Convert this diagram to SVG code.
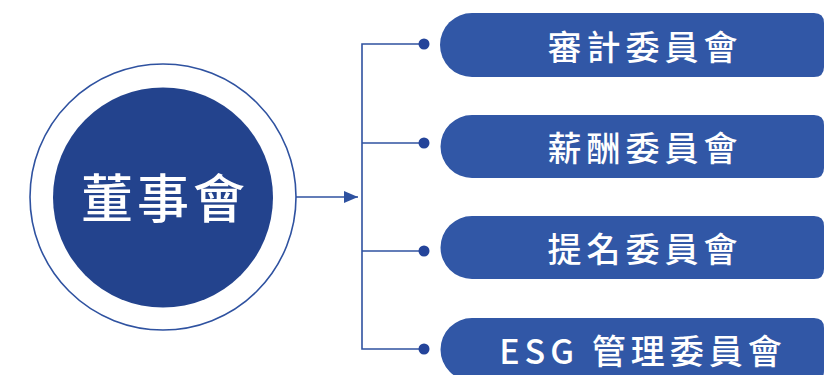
<svg xmlns="http://www.w3.org/2000/svg" width="824" height="375" viewBox="0 0 824 375">
<defs>
<style>
.line{fill:none;stroke:#2F52A0;stroke-width:1.6}
.dot{fill:#24449A}
.pill{fill:#3157A6}
.t{font-family:"Noto Sans CJK TC","Noto Sans CJK SC","Noto Sans",sans-serif;fill:#fff;font-weight:500;text-anchor:middle}
.pt{font-size:34px;letter-spacing:5px}
</style>
<marker id="arr" viewBox="0 0 14 12" refX="14" refY="6" markerWidth="14" markerHeight="12" markerUnits="userSpaceOnUse" orient="auto">
<path d="M0,0 L14,6 L0,12 Z" fill="#2F52A0"/>
</marker>
</defs>
<rect width="824" height="375" fill="#fff"/>
<g id="board">
<circle cx="163" cy="197" r="133" fill="#fff" stroke="#2F52A0" stroke-width="1.6"/>
<circle cx="163" cy="197.5" r="110" fill="#23438D"/>
<text class="t" x="165" y="218" font-size="52" letter-spacing="4">董事會</text>
</g>
<g id="connectors">
<line class="line" x1="296" y1="197" x2="358" y2="197" marker-end="url(#arr)"/>
<polyline class="line" points="424,44 362,44 362,349 424,349"/>
<line class="line" x1="362" y1="143" x2="424" y2="143"/>
<line class="line" x1="362" y1="251" x2="424" y2="251"/>
<circle class="dot" cx="424" cy="44" r="5.5"/>
<circle class="dot" cx="424" cy="143" r="5.5"/>
<circle class="dot" cx="424" cy="251" r="5.5"/>
<circle class="dot" cx="424" cy="349" r="5.5"/>
</g>
<g id="audit">
<path class="pill" d="M472,13 H814 Q824,13 824,23 V67 Q824,77 814,77 H472 A32,32 0 0 1 472,13 Z"/>
<text class="t pt" x="645" y="60">審計委員會</text>
</g>
<g id="remuneration">
<path class="pill" d="M472,115 H814 Q824,115 824,125 V168 Q824,178 814,178 H472 A31.5,31.5 0 0 1 472,115 Z"/>
<text class="t pt" x="645" y="161">薪酬委員會</text>
</g>
<g id="nomination">
<path class="pill" d="M472,216 H814 Q824,216 824,226 V269 Q824,279 814,279 H472 A31.5,31.5 0 0 1 472,216 Z"/>
<text class="t pt" x="645" y="262">提名委員會</text>
</g>
<g id="esg">
<path class="pill" d="M472,318 H814 Q824,318 824,328 V371 Q824,381 814,381 H472 A31.5,31.5 0 0 1 472,318 Z"/>
<text class="t pt" x="643" y="364">ESG 管理委員會</text>
</g>
</svg>
